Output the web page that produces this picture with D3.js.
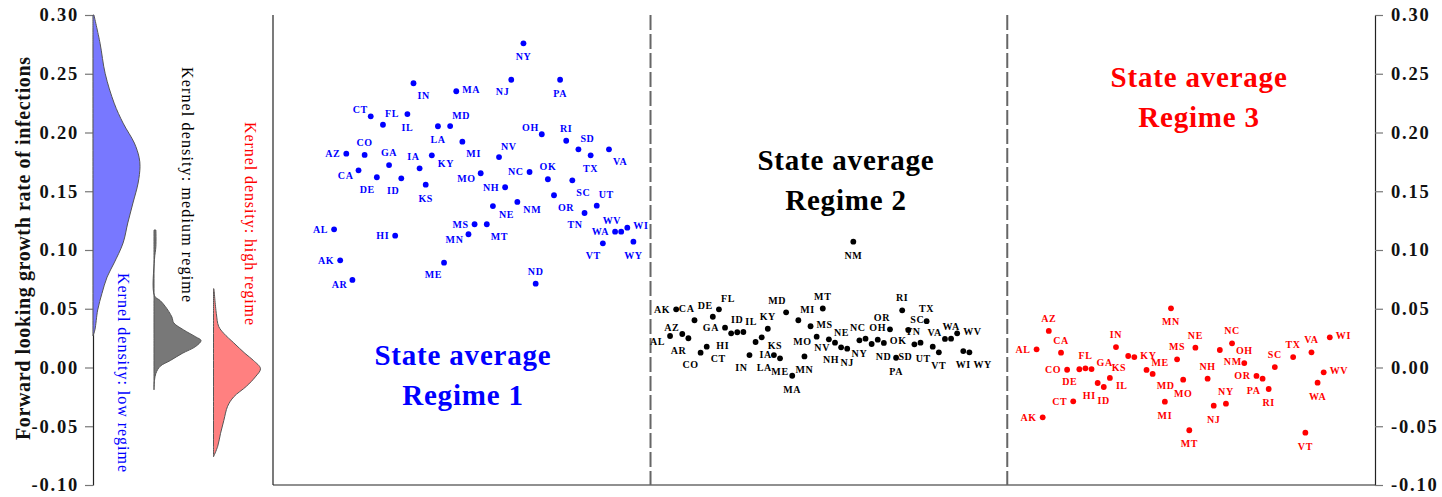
<!DOCTYPE html>
<html>
<head>
<meta charset="utf-8">
<script src="https://cdn.jsdelivr.net/npm/d3@7"></script>
<style>
body { margin: 0; background: #fff; }
svg text { font-family: "Liberation Serif", "Times New Roman", serif; }
</style>
</head>
<body>
<svg width="1442" height="497"></svg>
<script>
// states in alphabetical order of full name (x position = index)
const states = ['AL','AK','AZ','AR','CA','CO','CT','DE','FL','GA','HI','ID','IL','IN','IA','KS','KY','LA','ME','MD',
  'MA','MI','MN','MS','MO','MT','NE','NV','NH','NJ','NM','NY','NC','ND','OH','OK','OR','PA','RI','SC',
  'SD','TN','TX','UT','VT','VA','WA','WV','WI','WY'];

// state averages, one value per state (null = state never in that regime)
const regime1 = [0.1176,0.0912,0.182,0.0745,0.1678,0.1809,0.2138,0.1619,0.2066,0.1723,0.1122,0.161,0.2157,0.2419,0.1695,0.1556,0.1806,0.2053,0.0892,0.2055,
  0.2351,0.1922,0.1134,0.1219,0.1653,0.1219,0.1374,0.1791,0.1534,0.2449,0.1409,0.2759,0.1664,0.0713,0.1985,0.1602,0.1466,0.2449,0.193,0.1593,
  0.1857,0.1315,0.1806,0.1377,0.1057,0.1857,0.1156,0.1156,0.119,0.1071];
const regime2 = [0.0268,0.0495,0.0285,0.0249,0.0402,0.0126,0.0177,0.0432,0.0495,0.0339,0.0291,0.030,0.0302,0.0106,0.0217,0.0257,0.033,0.0106,0.0078,0.047,
  -0.007,0.0402,0.0094,0.0351,0.0262,0.0502,0.024,0.0211,0.0172,0.016,0.1071,0.0231,0.0245,0.020,0.0237,0.0209,0.0325,0.0083,0.0487,0.0319,
  0.0197,0.0211,0.0394,0.0177,0.0129,0.0243,0.0245,0.0291,0.014,0.0129];
const regime3 = [0.0155,-0.0424,0.0311,null,0.0126,-0.0019,-0.0288,-0.0015,-0.0007,-0.0013,-0.0132,-0.0166,-0.0089,0.0174,null,0.0098,0.0089,null,-0.0021,-0.0055,
  null,-0.0291,0.0504,0.007,-0.0104,-0.0534,0.0169,null,-0.0095,-0.0325,0.0149,-0.0308,0.0206,null,0.0038,null,-0.0072,-0.0095,-0.0183,0.0004,
  null,null,0.0089,null,-0.0555,0.0129,-0.0129,-0.0041,0.0257,null];

// marker label clock positions (like mlabvposition)
const labpos1 = [9,9,9,8,8,12,10,7,1,12,9,7,6,5,11,6,4,6,7,1, 3,5,8,9,8,5,4,1,9,7,4,6,9,12,10,12,5,6,12,5, 1,7,6,1,7,5,9,11,3,6];
const labpos2 = [8,9,10,7,11,7,5,11,1,9,7,12,1,7,5,4,12,7,6,11, 6,1,6,3,8,12,2,8,7,6,6,6,11,5,12,3,11,6,12,1, 7,11,12,7,6,10,12,3,6,5];
const labpos3 = [9,9,12,0,12,9,9,7,12,2,7,6,4,12,0,7,3,0,2,5, 0,6,6,12,6,6,12,0,12,6,5,12,12,0,12,0,9,7,6,12, 0,0,12,0,6,12,6,3,3,0];

const yTicks = [-0.10,-0.05,0.00,0.05,0.10,0.15,0.20,0.25,0.30];

// kernel density profiles [growth rate, relative density]
const densityLow = [[0.300,0.02],[0.276,0.15],[0.250,0.26],[0.225,0.45],[0.208,0.64],[0.191,0.88],[0.179,0.98],[0.171,1.00],
  [0.157,0.96],[0.140,0.85],[0.123,0.74],[0.106,0.64],[0.089,0.45],[0.077,0.30],[0.063,0.19],[0.049,0.10],[0.032,0.04],[0.027,0.0]];
const densityMedium = [[0.117,0.04],[0.103,0.04],[0.092,0.01],[0.061,0.01],[0.057,0.13],[0.052,0.24],[0.043,0.38],[0.038,0.42],
  [0.032,0.63],[0.026,0.89],[0.023,1.00],[0.018,0.89],[0.012,0.60],[0.006,0.35],[0.001,0.13],[-0.005,0.04],[-0.011,0.01],[-0.019,0.0]];
const densityHigh = [[0.067,0.01],[0.046,0.06],[0.035,0.11],[0.029,0.22],[0.021,0.43],[0.012,0.67],[0.006,0.85],[-0.001,1.00],
  [-0.008,0.89],[-0.016,0.70],[-0.025,0.43],[-0.033,0.30],[-0.045,0.22],[-0.056,0.15],[-0.067,0.09],[-0.076,0.0]];

const svg = d3.select('svg');
const y = d3.scaleLinear().domain([-0.10, 0.30]).range([485, 15]);
const x = d3.scaleLinear().domain([-10, 170.4]).range([273, 1375]);
const regimeOffset = [0, 55, 115];
const fmt = d => d.toFixed(2);

// left axis (density panel) and right axis
const axL = svg.append('g').attr('transform', 'translate(93,0)')
  .call(d3.axisLeft(y).tickValues(yTicks).tickFormat(fmt).tickSize(8).tickSizeOuter(0));
const axR = svg.append('g').attr('transform', 'translate(1375,0)')
  .call(d3.axisRight(y).tickValues(yTicks).tickFormat(fmt).tickSize(8).tickSizeOuter(0));
[axL, axR].forEach(a => {
  a.select('.domain').attr('stroke', '#222').attr('stroke-width', 1.2);
  a.selectAll('.tick line').attr('stroke', '#777').attr('stroke-width', 1.2);
  a.selectAll('.tick text').attr('font-size', 18.5).attr('font-weight', 'bold')
    .attr('letter-spacing', 1.8).attr('fill', '#111')
    .attr('font-family', '"Liberation Serif", serif');
});
axL.selectAll('.tick text').attr('x', -14);
axR.selectAll('.tick text').attr('x', 16);

// plot frame
svg.append('line').attr('x1', 273).attr('x2', 273).attr('y1', 15).attr('y2', 485).attr('stroke', '#222').attr('stroke-width', 1.2);
svg.append('line').attr('x1', 273).attr('x2', 1375).attr('y1', 485).attr('y2', 485).attr('stroke', '#222').attr('stroke-width', 1.2);

// regime separators
[51.8, 110.2].forEach(v => {
  svg.append('line').attr('x1', x(v)).attr('x2', x(v)).attr('y1', 15).attr('y2', 485)
    .attr('stroke', '#666').attr('stroke-width', 2).attr('stroke-dasharray', '15,4');
});

// densities
const w = d3.scaleLinear().domain([0, 1]).range([0, 47]);
const area = d3.area().curve(d3.curveCatmullRom)
  .y(d => y(d[0])).x0(0).x1(d => w(d[1]));
[
  {data: densityLow, base: 93, fill: '#7878ff'},
  {data: densityMedium, base: 154, fill: '#787878'},
  {data: densityHigh, base: 213.5, fill: '#ff8080'}
].forEach(k => {
  svg.append('path').datum(k.data)
    .attr('transform', 'translate(' + k.base + ',0)')
    .attr('d', area).attr('fill', k.fill)
    .attr('stroke', '#555').attr('stroke-width', 1);
});

// density labels
[
  {t: 'Kernel density: low regime', x: 118, y: 273, len: 199, c: '#0000ff'},
  {t: 'Kernel density: medium regime', x: 182, y: 67, len: 235, c: '#000'},
  {t: 'Kernel density: high regime', x: 245, y: 122, len: 203, c: '#ff0000'}
].forEach(l => {
  svg.append('text').attr('transform', 'translate(' + l.x + ',' + l.y + ') rotate(90)')
    .attr('font-size', 16).attr('fill', l.c)
    .attr('textLength', l.len).attr('lengthAdjust', 'spacing')
    .text(l.t);
});

// y title
svg.append('text').attr('transform', 'translate(30,248.5) rotate(-90)')
  .attr('text-anchor', 'middle').attr('font-size', 20).attr('font-weight', 'bold')
  .attr('textLength', 383).attr('lengthAdjust', 'spacing').attr('fill', '#111')
  .text('Forward looking growth rate of infections');

// points + labels
const clock = {
  1: ['start', 2, -11], 2: ['start', 5, -7], 3: ['start', 6, -2], 4: ['start', 6, 8],
  5: ['start', 4, 12], 6: ['middle', 0, 13.5], 7: ['end', -2, 12], 8: ['end', -5, 5],
  9: ['end', -6, 0], 10: ['end', -3, -6.5], 11: ['end', 0, -11.5], 12: ['middle', 0, -12.5]
};
const colors = ['#0000ff', '#000000', '#ff0000'];
[[regime1, labpos1], [regime2, labpos2], [regime3, labpos3]].forEach((r, ri) => {
  const pts = states.map((s, i) => ({s: s, i: i, v: r[0][i], p: r[1][i]})).filter(d => d.v !== null);
  const g = svg.append('g').attr('fill', colors[ri]);
  g.selectAll('circle').data(pts).enter().append('circle')
    .attr('cx', d => x(regimeOffset[ri] + d.i)).attr('cy', d => y(d.v)).attr('r', 2.9);
  g.selectAll('text').data(pts).enter().append('text')
    .attr('text-anchor', d => clock[d.p][0])
    .attr('x', d => x(regimeOffset[ri] + d.i) + clock[d.p][1])
    .attr('y', d => y(d.v) + clock[d.p][2] + 3.5)
    .attr('font-size', 10).attr('font-weight', 'bold').attr('letter-spacing', 0.6)
    .text(d => d.s);
});

// regime titles
[
  {x: 21.1, v: 0.0021, t: 'Regime 1', c: '#0000ff'},
  {x: 83.8, v: 0.1677, t: 'Regime 2', c: '#000000'},
  {x: 141.6, v: 0.2391, t: 'Regime 3', c: '#ff0000'}
].forEach(t => {
  const txt = svg.append('text').attr('text-anchor', 'middle').attr('fill', t.c)
    .attr('font-size', 29).attr('font-weight', 'bold').attr('letter-spacing', 0.8);
  txt.append('tspan').attr('x', x(t.x)).attr('y', y(t.v)).text('State average');
  txt.append('tspan').attr('x', x(t.x)).attr('dy', 40).text(t.t);
});
</script>
</body>
</html>
